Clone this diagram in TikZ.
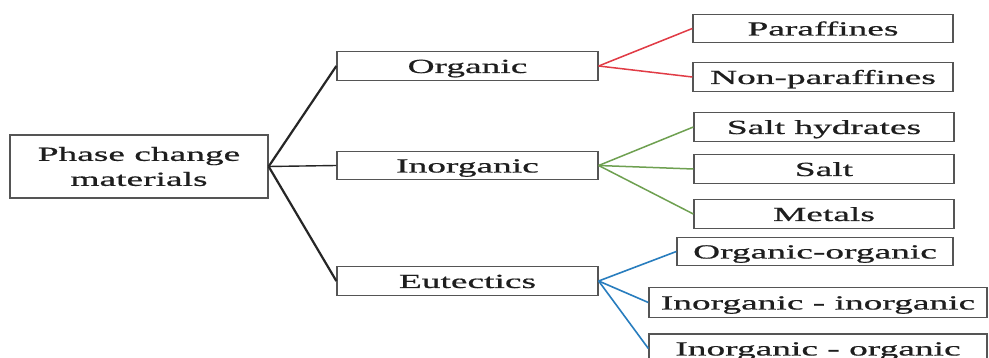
\documentclass[tikz,border=0pt]{standalone}
\usepackage{fontspec}
\setmainfont[FakeStretch=1.87,FakeBold=0.7]{Liberation Serif}
\definecolor{boxgray}{RGB}{85,85,85}
\definecolor{txt}{RGB}{30,30,30}
\definecolor{lred}{RGB}{225,60,70}
\definecolor{lgreen}{RGB}{110,160,80}
\definecolor{lblue}{RGB}{40,125,190}
\begin{document}
\begin{tikzpicture}[x=1pt,y=-1pt,
  box/.style={draw=boxgray, line width=1.3pt, inner sep=0pt, minimum height=28.5pt,
    text height=18pt, text depth=4pt, font=\fontsize{20}{25}\selectfont, text=txt, fill=white},
  rootbox/.style={draw=boxgray, line width=1.3pt, inner sep=0pt, minimum height=63pt,
    minimum width=258pt, align=center, font=\fontsize{20}{25}\selectfont, text=txt, fill=white},
  blkdiag/.style={draw=black!85, line width=2.2pt},
  blkhor/.style={draw=black!85, line width=1.4pt},
  redl/.style={draw=lred, line width=1.5pt},
  greenl/.style={draw=lgreen, line width=1.5pt},
  bluel/.style={draw=lblue, line width=1.6pt}]
\useasboundingbox (0,0) rectangle (989,358);
\fill[white] (0,0) rectangle (989,358);
\clip (0,0) rectangle (989,358);

\node[rootbox] (root) at (139,166.5) {Phase change\\materials};

\node[box, minimum width=261pt] (org) at (467.5,66) {Organic};
\node[box, minimum width=261pt] (inorg) at (467.5,165.5) {Inorganic};
\node[box, minimum width=261pt] (eut) at (467.5,281) {Eutectics};

\node[box, minimum width=260pt] (par) at (823,28.5) {Paraffines};
\node[box, minimum width=260pt] (npar) at (823,77) {Non-paraffines};

\node[box, minimum width=260pt] (sh) at (824,127) {Salt hydrates};
\node[box, minimum width=260pt] (salt) at (824,169) {Salt};
\node[box, minimum width=260pt] (met) at (824,214) {Metals};

\node[box, minimum width=276pt] (oo) at (815,251.5) {Organic-organic};
\node[box, minimum width=338pt, minimum height=30pt] (ii) at (818,302.5) {Inorganic - inorganic};
\node[box, minimum width=338pt, minimum height=29pt] (io) at (818,348.5) {Inorganic - organic};

\draw[blkdiag] (root.east) -- (org.west);
\draw[blkhor] (root.east) -- (inorg.west);
\draw[blkdiag] (root.east) -- (eut.west);

\draw[redl] (org.east) -- (par.west);
\draw[redl] (org.east) -- (npar.west);

\draw[greenl] (inorg.east) -- (sh.west);
\draw[greenl] (inorg.east) -- (salt.west);
\draw[greenl] (inorg.east) -- (met.west);

\draw[bluel] (eut.east) -- (oo.west);
\draw[bluel] (eut.east) -- (ii.west);
\draw[bluel] (eut.east) -- (io.west);
\end{tikzpicture}
\end{document}
